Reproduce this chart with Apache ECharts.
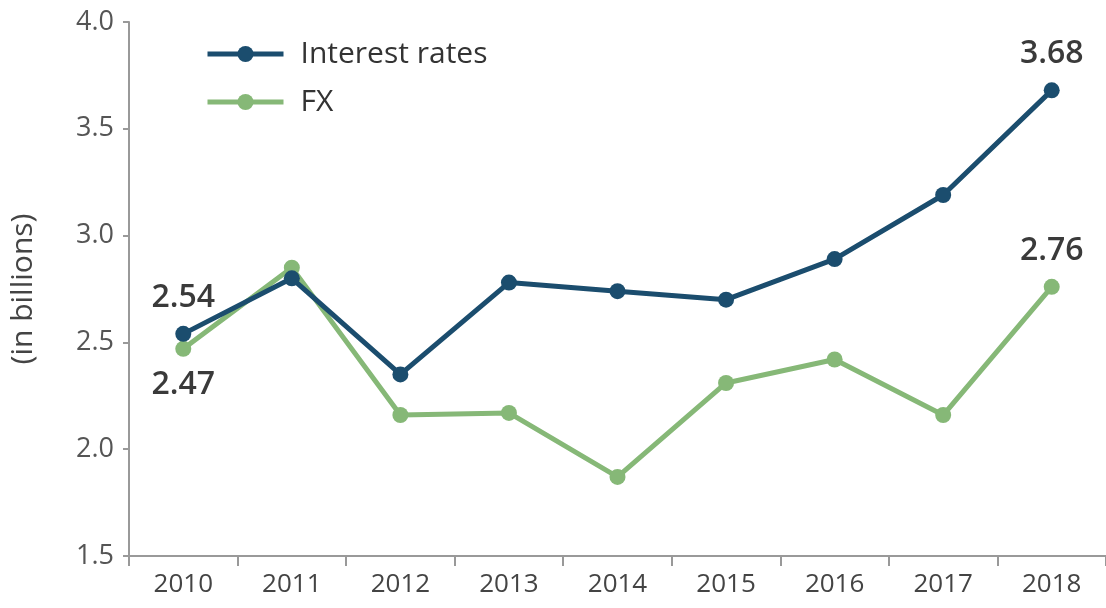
<!DOCTYPE html>
<html lang="en">
<head>
    <meta charset="UTF-8">
    <title>Interest rates vs FX</title>
    <script src="https://cdn.jsdelivr.net/npm/echarts@6/dist/echarts.min.js"></script>
    <style>
        body { margin: 0; background: #fff; }
    </style>
</head>
<body>
    <div id="main" style="width: 1106px;height:608px;"></div>
    <script>
// data
var years = ['2010', '2011', '2012', '2013', '2014', '2015', '2016', '2017', '2018'];
var interestRates = [2.54, 2.80, 2.35, 2.78, 2.74, 2.70, 2.89, 3.19, 3.68];
var fx = [2.47, 2.85, 2.16, 2.17, 1.87, 2.31, 2.42, 2.16, 2.76];
var yTicks = [1.5, 2.0, 2.5, 3.0, 3.5, 4.0];

var blue = '#1b4d6e';
var green = '#86b877';
var font = 'Open Sans';

// only first and last points carry a value label
function withEndLabels(values, firstPos) {
    return values.map(function (v, i) {
        if (i === 0 || i === values.length - 1) {
            return {
                value: v,
                label: {
                    show: true,
                    position: i === 0 ? firstPos : 'top',
                    distance: 12,
                    formatter: function (p) { return p.value.toFixed(2); },
                    fontFamily: font,
                    fontSize: 32,
                    fontWeight: 600,
                    color: '#3a3a3a'
                }
            };
        }
        return v;
    });
}

var myChart = echarts.init(document.getElementById('main'));

var option = {
    animation: false,
    legend: {
        orient: 'vertical',
        left: 200,
        top: 34,
        itemWidth: 76,
        itemHeight: 20,
        itemGap: 18,
        lineStyle: { width: 5 },
        textStyle: { fontFamily: font, fontSize: 30, color: '#333', padding: [0, 0, 0, 12] },
        data: ['Interest rates', 'FX']
    },
    grid: {
        left: 127,
        top: 22,
        width: 980,
        bottom: 52
    },
    xAxis: {
        type: 'category',
        data: years,
        boundaryGap: true,
        axisLine: { lineStyle: { color: '#999', width: 2 } },
        axisTick: { show: true, length: 10, lineStyle: { color: '#999', width: 2 } },
        axisLabel: { fontFamily: font, fontSize: 26, color: '#444', margin: 16 }
    },
    yAxis: {
        type: 'value',
        min: yTicks[0],
        max: yTicks[yTicks.length - 1],
        interval: 0.5,
        name: '(in billions)',
        nameLocation: 'middle',
        nameGap: 91,
        nameTextStyle: { fontFamily: font, fontSize: 30, color: '#444' },
        splitLine: { show: false },
        axisLine: { show: true, lineStyle: { color: '#999', width: 2 } },
        axisTick: { show: true, length: 6, lineStyle: { color: '#999', width: 2 } },
        axisLabel: {
            fontFamily: font, fontSize: 27, color: '#555', margin: 15,
            formatter: function (v) { return v.toFixed(1); }
        }
    },
    series: [
        {
            name: 'Interest rates',
            type: 'line',
            symbol: 'circle',
            symbolSize: 16,
            z: 3,
            itemStyle: { color: blue },
            lineStyle: { color: blue, width: 5 },
            data: withEndLabels(interestRates, 'top')
        },
        {
            name: 'FX',
            type: 'line',
            symbol: 'circle',
            symbolSize: 16,
            z: 2,
            itemStyle: { color: green },
            lineStyle: { color: green, width: 5 },
            data: withEndLabels(fx, 'bottom')
        }
    ]
};

myChart.setOption(option);
    </script>
</body>
</html>
